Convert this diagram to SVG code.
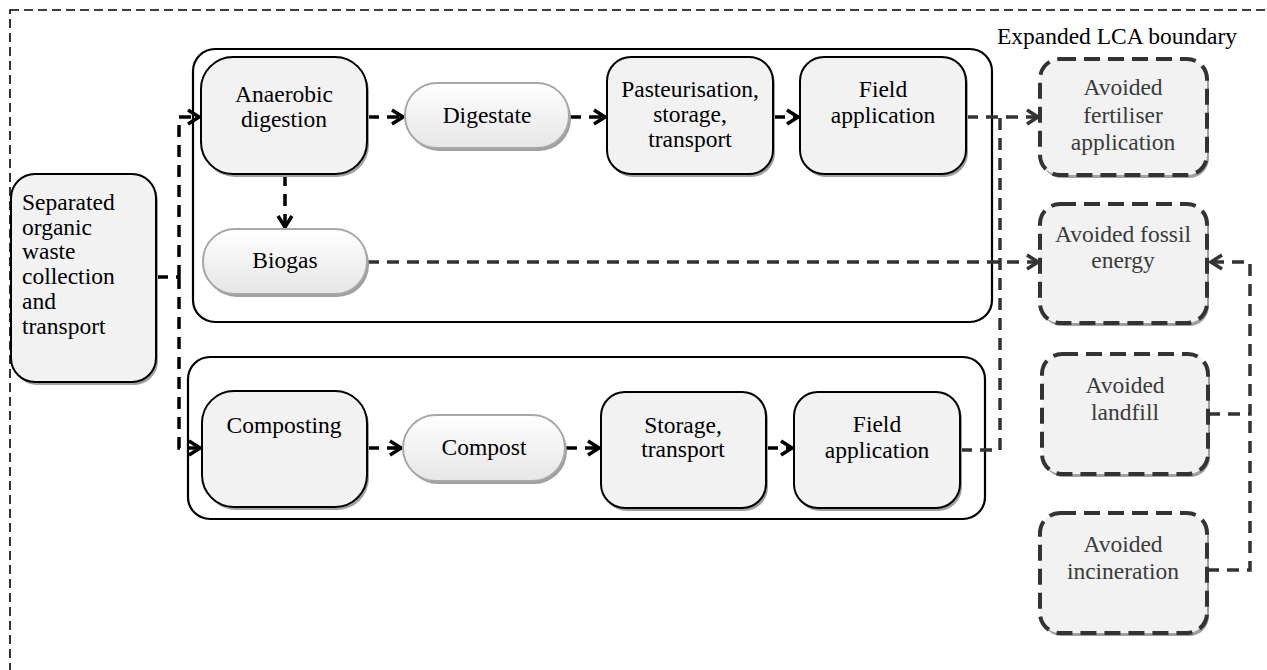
<svg xmlns="http://www.w3.org/2000/svg" width="1267" height="670" viewBox="0 0 1267 670" font-family="'Liberation Serif', 'Times New Roman', Tinos, 'DejaVu Serif', serif">
<defs>
<linearGradient id="pillGrad" x1="0" y1="0" x2="0" y2="1">
<stop offset="0" stop-color="#ffffff"/>
<stop offset="1" stop-color="#e6e6e6"/>
</linearGradient>
<marker id="arrK" markerUnits="userSpaceOnUse" markerWidth="16" markerHeight="18" refX="13" refY="9" orient="auto">
<path d="M2,2 L13,9 L2,16" fill="none" stroke="#000" stroke-width="3.5" stroke-linejoin="miter"/>
</marker>
<marker id="arrG" markerUnits="userSpaceOnUse" markerWidth="16" markerHeight="18" refX="13" refY="9" orient="auto">
<path d="M2,2 L13,9 L2,16" fill="none" stroke="#333" stroke-width="3.5" stroke-linejoin="miter"/>
</marker>
</defs>
<style>
text{font-family:'Liberation Serif','Times New Roman',Tinos,'DejaVu Serif',serif;font-size:23.5px;fill:#000}
.c{text-anchor:middle}
.av{fill:#3a3a3a}
.shadow{fill:#a0a0a0}
.box{fill:#f2f2f2;stroke:#000;stroke-width:2}
.pill{fill:url(#pillGrad);stroke:#a8a8a8;stroke-width:2}
.avoid{fill:#f2f2f2;stroke:#333;stroke-width:4;stroke-dasharray:16 8}
.cont{fill:none;stroke:#000;stroke-width:2.2}
.conn{fill:none;stroke:#000;stroke-width:3.5;stroke-dasharray:12 8}
.conng{fill:none;stroke:#333;stroke-width:3.5;stroke-dasharray:12 8}
</style>
<rect x="0" y="0" width="1267" height="670" fill="#fff"/>
<g id="boundary">
<rect x="10" y="10" width="1290" height="700" fill="none" stroke="#000" stroke-width="1.6" stroke-dasharray="9 5"/>
<text x="1117" y="44" class="c">Expanded LCA boundary</text>
</g>
<g id="containers">
<rect class="cont" x="193" y="49" width="799" height="273" rx="22"/>
<rect class="cont" x="188" y="357" width="797" height="162" rx="22"/>
</g>
<g id="connectors">
<path class="conn" d="M156 277 H179"/>
<path class="conn" d="M179 277 V117 H199" marker-end="url(#arrK)"/>
<path class="conn" d="M179 277 V448 H200" marker-end="url(#arrK)"/>
<path class="conn" d="M367 117 H403" marker-end="url(#arrK)"/>
<path class="conn" d="M569 117 H605" marker-end="url(#arrK)"/>
<path class="conn" d="M773 117 H798" marker-end="url(#arrK)"/>
<path class="conn" d="M285 174 V227" marker-end="url(#arrK)"/>
<path class="conn" d="M367 448 H401" marker-end="url(#arrK)"/>
<path class="conn" d="M565 448 H599" marker-end="url(#arrK)"/>
<path class="conn" d="M766 448 H792" marker-end="url(#arrK)"/>
<path class="conng" d="M367 262 H1038" marker-end="url(#arrG)"/>
<path class="conng" d="M966 117 H1038" marker-end="url(#arrG)"/>
<path class="conng" d="M960 450 H1000 V117"/>
<path class="conng" d="M1208 414 H1250 V262 H1211" marker-end="url(#arrG)"/>
<path class="conng" d="M1207 570 H1250 V414"/>
</g>
<g id="n-separated">
<rect class="shadow" x="13" y="177" width="145" height="208" rx="24"/>
<rect class="box" x="11" y="174" width="145" height="208" rx="24"/>
<text x="22" y="210">Separated</text>
<text x="22" y="235">organic</text>
<text x="22" y="259">waste</text>
<text x="22" y="284">collection</text>
<text x="22" y="309">and</text>
<text x="22" y="334">transport</text>
</g>
<g id="n-anaerobic">
<rect class="shadow" x="203" y="60" width="166" height="117" rx="32"/>
<rect class="box" x="201" y="57" width="166" height="117" rx="32"/>
<text x="284" y="102" class="c">Anaerobic</text>
<text x="284" y="127" class="c">digestion</text>
</g>
<g id="n-digestate">
<rect class="shadow" x="407" y="86" width="164" height="65" rx="32"/>
<rect class="pill" x="405" y="83" width="164" height="65" rx="32"/>
<text x="487" y="123" class="c">Digestate</text>
</g>
<g id="n-pasteurisation">
<rect class="shadow" x="609" y="60" width="166" height="117" rx="24"/>
<rect class="box" x="607" y="57" width="166" height="117" rx="24"/>
<text x="690" y="97" class="c">Pasteurisation,</text>
<text x="690" y="122" class="c">storage,</text>
<text x="690" y="147" class="c">transport</text>
</g>
<g id="n-field1">
<rect class="shadow" x="802" y="60" width="166" height="117" rx="24"/>
<rect class="box" x="800" y="57" width="166" height="117" rx="24"/>
<text x="883" y="97" class="c">Field</text>
<text x="883" y="123" class="c">application</text>
</g>
<g id="n-biogas">
<rect class="shadow" x="205" y="232" width="164" height="65" rx="32"/>
<rect class="pill" x="203" y="229" width="164" height="65" rx="32"/>
<text x="285" y="268" class="c">Biogas</text>
</g>
<g id="n-composting">
<rect class="shadow" x="204" y="394" width="165" height="116" rx="32"/>
<rect class="box" x="202" y="391" width="165" height="116" rx="32"/>
<text x="284" y="433" class="c">Composting</text>
</g>
<g id="n-compost">
<rect class="shadow" x="405" y="418" width="162" height="66" rx="33"/>
<rect class="pill" x="403" y="415" width="162" height="66" rx="33"/>
<text x="484" y="455" class="c">Compost</text>
</g>
<g id="n-storage">
<rect class="shadow" x="603" y="395" width="165" height="116" rx="24"/>
<rect class="box" x="601" y="392" width="165" height="116" rx="24"/>
<text x="683" y="433" class="c">Storage,</text>
<text x="683" y="457" class="c">transport</text>
</g>
<g id="n-field2">
<rect class="shadow" x="796" y="395" width="166" height="116" rx="24"/>
<rect class="box" x="794" y="392" width="166" height="116" rx="24"/>
<text x="877" y="432" class="c">Field</text>
<text x="877" y="458" class="c">application</text>
</g>
<g id="n-fertiliser">
<rect class="shadow" x="1042" y="62" width="167" height="116" rx="20"/>
<rect class="avoid" x="1040" y="59" width="167" height="116" rx="20"/>
<text x="1123" y="95" class="c av">Avoided</text>
<text x="1123" y="123" class="c av">fertiliser</text>
<text x="1123" y="150" class="c av">application</text>
</g>
<g id="n-fossil">
<rect class="shadow" x="1042" y="207" width="167" height="119" rx="20"/>
<rect class="avoid" x="1040" y="204" width="167" height="119" rx="20"/>
<text x="1123" y="242" class="c av">Avoided fossil</text>
<text x="1123" y="268" class="c av">energy</text>
</g>
<g id="n-landfill">
<rect class="shadow" x="1044" y="357" width="166" height="120" rx="20"/>
<rect class="avoid" x="1042" y="354" width="166" height="120" rx="20"/>
<text x="1125" y="393" class="c av">Avoided</text>
<text x="1125" y="420" class="c av">landfill</text>
</g>
<g id="n-incineration">
<rect class="shadow" x="1042" y="516" width="167" height="120" rx="20"/>
<rect class="avoid" x="1040" y="513" width="167" height="120" rx="20"/>
<text x="1123" y="552" class="c av">Avoided</text>
<text x="1123" y="579" class="c av">incineration</text>
</g>
</svg>
